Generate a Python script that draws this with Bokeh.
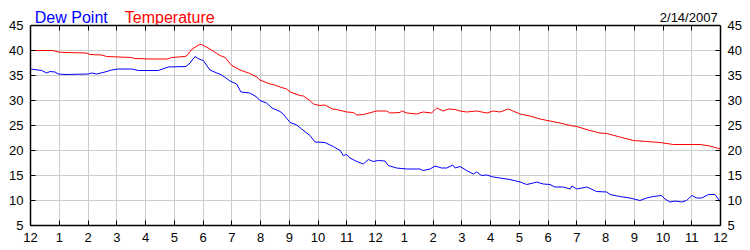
from bokeh.plotting import figure
from bokeh.models import LinearAxis, Range1d, FixedTicker, Grid, Span
from bokeh.core.properties import value
from bokeh.embed import file_html
from bokeh.resources import INLINE

# Hours since midnight 2/14/2007 and readings (deg F)
temp_hours = [0.0, 0.78, 0.96, 1.2, 1.95, 2.07, 2.48, 2.65, 3.52, 3.63, 4.16, 4.78, 4.9, 5.37, 5.45,
              5.6, 5.84, 5.95, 6.05, 6.24, 6.48, 6.59, 6.77, 6.94, 7.0, 7.29, 7.63, 7.87, 7.98, 8.33,
              8.44, 8.68, 8.91, 9.03, 9.37, 9.49, 9.72, 9.84, 9.9, 10.07, 10.24, 10.5, 10.65, 11.0,
              11.23, 11.35, 11.58, 12.04, 12.39, 12.5, 12.85, 12.91, 13.09, 13.43, 13.66, 13.95,
              14.13, 14.36, 14.53, 14.77, 14.94, 15.17, 15.52, 15.87, 16.1, 16.33, 16.62, 17.03,
              17.37, 17.72, 18.07, 18.42, 18.77, 19.0, 19.46, 19.81, 20.04, 20.5, 20.97, 21.43,
              21.9, 22.36, 23.29, 23.63, 24.0]
temperature = [40.0, 40.0, 39.7, 39.6, 39.5, 39.2, 39.1, 38.8, 38.6, 38.4, 38.3, 38.3, 38.6, 38.8, 39.0,
               40.2, 41.1, 41.2, 40.9, 40.3, 39.4, 39.0, 38.6, 37.4, 37.0, 36.1, 35.4, 34.7, 34.1, 33.3,
               33.2, 32.7, 32.3, 31.7, 31.0, 30.9, 30.0, 29.3, 29.2, 29.0, 29.1, 28.3, 28.2, 27.7,
               27.6, 27.1, 27.2, 27.9, 27.9, 27.5, 27.6, 27.9, 27.5, 27.3, 27.7, 27.5,
               28.5, 27.9, 28.3, 28.2, 27.9, 27.7, 27.9, 27.5, 27.9, 27.7, 28.3, 27.3,
               26.9, 26.3, 25.9, 25.5, 25.0, 24.8, 24.0, 23.5, 23.4, 22.7, 22.0, 21.8,
               21.6, 21.2, 21.2, 20.9, 20.3]

dew_hours = [0.0, 0.39, 0.56, 0.68, 0.85, 0.97, 1.2, 2.01, 2.13, 2.3, 2.59, 2.82, 3.05, 3.52, 3.75,
             4.45, 4.79, 5.41, 5.55, 5.72, 5.8, 5.9, 6.01, 6.24, 6.48, 6.65, 6.94, 7.17, 7.32, 7.63,
             7.87, 7.98, 8.21, 8.4, 8.68, 8.79, 9.03, 9.26, 9.43, 9.72, 9.9, 10.24, 10.53, 10.77,
             10.88, 11.0, 11.11, 11.35, 11.58, 11.75, 11.92, 12.1, 12.33, 12.44, 12.73, 13.09,
             13.55, 13.66, 13.9, 14.07, 14.3, 14.48, 14.69, 14.77, 14.94, 15.17, 15.4, 15.52,
             15.69, 15.87, 16.1, 16.33, 16.68, 17.03, 17.26, 17.49, 17.6, 17.84, 18.07, 18.24,
             18.53, 18.77, 18.83, 19.0, 19.35, 19.69, 20.04, 20.16, 20.5, 20.85, 21.2, 21.43,
             21.66, 21.95, 22.07, 22.24, 22.42, 22.65, 22.82, 23.0, 23.18, 23.35, 23.58, 23.81, 24.0]
dew_point = [36.3, 36.0, 35.5, 35.8, 35.7, 35.3, 35.2, 35.3, 35.5, 35.3, 35.7, 36.1, 36.3, 36.3, 36.0,
             36.0, 36.7, 36.8, 37.5, 38.8, 38.5, 38.2, 38.0, 36.1, 35.5, 35.1, 33.9, 33.3, 31.7, 31.5,
             30.7, 30.0, 29.5, 28.5, 27.8, 27.3, 25.6, 25.1, 24.3, 23.0, 21.7, 21.6, 20.8, 20.0,
             19.0, 19.2, 18.5, 17.8, 17.3, 18.2, 17.8, 18.0, 17.9, 17.0, 16.5, 16.3,
             16.3, 16.0, 16.3, 16.9, 16.5, 16.5, 17.1, 16.5, 16.8, 16.0, 15.3, 15.7,
             15.0, 15.1, 14.7, 14.5, 14.2, 13.7, 13.2, 13.5, 13.7, 13.3, 13.2, 12.7,
             12.7, 12.3, 12.9, 12.3, 12.7, 11.8, 11.7, 11.2, 10.8, 10.5, 10.0, 10.5,
             10.8, 11.0, 10.3, 9.7, 9.9, 9.7, 10.0, 11.0, 10.5, 10.5, 11.2, 11.2, 9.7]

hour_ticks = list(range(25))
hour_labels = ["12", "1", "2", "3", "4", "5", "6", "7", "8", "9", "10", "11",
               "12", "1", "2", "3", "4", "5", "6", "7", "8", "9", "10", "11", "12"]
value_ticks = [5, 10, 15, 20, 25, 30, 35, 40, 45]
series_names = ["Dew Point", "Temperature"]
series_colors = ["#0000ff", "#ff0000"]
date_text = "2/14/2007"

FONT = "Liberation Sans"
Y_MIN, Y_MAX = value_ticks[0], value_ticks[-1]

# The frame extends 5 units above the 45 line so the header texts live inside it.
p = figure(frame_width=690, frame_height=225, output_backend="svg", toolbar_location=None,
           x_range=Range1d(0, 24), y_range=Range1d(Y_MIN, Y_MAX + 5),
           min_border_left=30, min_border_right=30, min_border_top=0, min_border_bottom=25,
           x_axis_location=None, y_axis_location=None)
p.background_fill_color = "white"
p.border_fill_color = "white"
p.outline_line_color = None

def style_axis(ax):
    ax.axis_line_color = "black"
    ax.axis_line_width = 1.5
    ax.major_tick_in = 5
    ax.major_tick_out = 0
    ax.major_tick_line_color = "black"
    ax.major_tick_line_width = 1
    ax.minor_tick_line_color = None
    ax.major_label_text_font = FONT
    ax.major_label_text_font_size = "13px"
    ax.major_label_text_color = "black"
    ax.major_label_standoff = 7

xt = FixedTicker(ticks=hour_ticks)
yt = FixedTicker(ticks=value_ticks)
overrides = {i: lab for i, lab in zip(hour_ticks, hour_labels)}

bottom = LinearAxis(ticker=xt, major_label_overrides=overrides)
style_axis(bottom)
p.add_layout(bottom, "below")
left = LinearAxis(ticker=yt, bounds=(Y_MIN, Y_MAX))
style_axis(left)
p.add_layout(left, "left")
right = LinearAxis(ticker=yt, bounds=(Y_MIN, Y_MAX))
style_axis(right)
p.add_layout(right, "right")

p.ygrid.ticker = yt
p.ygrid.grid_line_color = "#cccccc"
p.xgrid.ticker = xt
p.xgrid.grid_line_color = "#cccccc"

if "cross_bounds" in Grid.properties():
    p.xgrid.cross_bounds = (Y_MIN, Y_MAX)
    p.add_layout(Grid(dimension=0, ticker=xt, cross_bounds=(Y_MAX - 1, Y_MAX),
                      grid_line_color="black", grid_line_width=1))
else:
    p.xgrid.visible = False
    n = len(hour_ticks)
    p.segment(hour_ticks, [Y_MIN] * n, hour_ticks, [Y_MAX] * n, line_color="#cccccc",
              line_width=1, level="underlay")
    p.segment(hour_ticks, [Y_MAX - 1] * n, hour_ticks, [Y_MAX] * n, line_color="black",
              line_width=1)

# top edge of the plot box
p.add_layout(Span(location=Y_MAX, dimension="width", line_color="black", line_width=1.5))

p.line(temp_hours, temperature, line_color=series_colors[1], line_width=1)
p.line(dew_hours, dew_point, line_color=series_colors[0], line_width=1)

# header texts
p.text(x=[0.15, 3.28], y=[46.55, 46.55], text=series_names, text_color=series_colors,
       text_font=value(FONT), text_font_size="16px", text_baseline="alphabetic",
       text_align="left")
p.text(x=[23.9], y=[46.55], text=[date_text], text_color="black",
       text_font=value(FONT), text_font_size="13px", text_baseline="alphabetic",
       text_align="right")

open("out.html", "w").write(file_html(p, INLINE))
